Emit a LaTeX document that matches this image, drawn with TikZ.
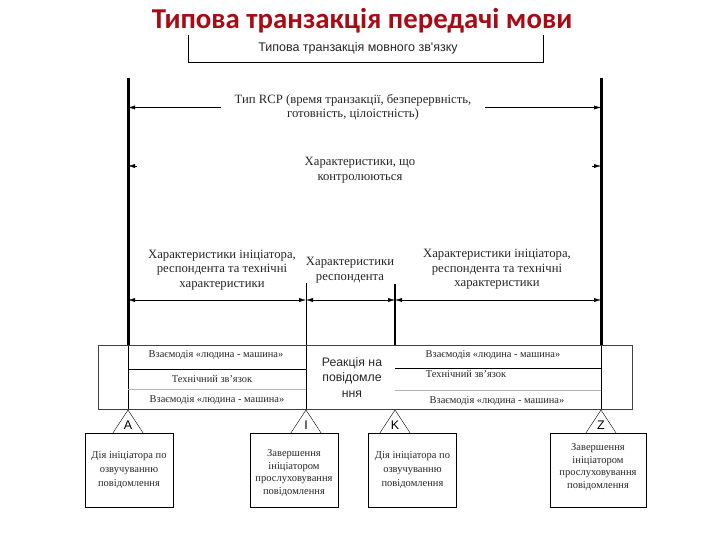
\documentclass[tikz,border=0pt]{standalone}
\usepackage{fontspec}
\setmainfont{Liberation Serif}
\newfontfamily\arialfont{Liberation Sans}
\newfontfamily\titlefont{Carlito}
\usetikzlibrary{arrows.meta, calc}

\definecolor{titlered}{RGB}{170,10,20}

\tikzset{
  txt/.style = {align = center, text = black!85, inner sep = 0pt,
    font = \fontsize{12.7}{14.5}\selectfont},
  celltxt/.style = {text = black!85, inner sep = 0pt,
    font = \fontsize{10.4}{11}\selectfont},
  box/.style = {draw, thin, minimum width = 88pt, minimum height = 74pt, inner sep = 0pt},
  boxtxt/.style = {align = center, text = black!85, inner sep = 0pt,
    font = \fontsize{10.5}{14}\selectfont},
  boxtxtfour/.style = {boxtxt, font = \fontsize{10.5}{12.6}\selectfont},
  dim/.style = {thin, -{Latex[length = 7pt, width = 4pt]}},
  dimboth/.style = {thin, {Latex[length = 7pt, width = 4pt]}-{Latex[length = 7pt, width = 4pt]}},
  tri/.style = {thin}
}

\begin{document}
\begin{tikzpicture}[x = 1pt, y = -1pt]
\useasboundingbox (0, 0) rectangle (720, 540);

% title
\node[titlered, font = \titlefont\bfseries\fontsize{28.8}{30}\selectfont] (title) at (362, 21){Типова транзакція передачі мови};

% bracket at the top
\coordinate (brl) at (188, 35);
\coordinate (brr) at (543, 35);
\draw[thin] (brl) -- (188, 62) -- (543, 62) -- (brr);
\node[font = \arialfont\fontsize{12.5}{14}\selectfont, text = black!85] (speech) at (358, 48){Типова транзакція мовного зв'язку};

% end points of the vertical lines
\coordinate (atop) at (128, 78);
\coordinate (atab) at (128, 345);
\coordinate (abot) at (128, 410);
\coordinate (ztop) at (601, 78);
\coordinate (ztab) at (601, 345);
\coordinate (zbot) at (601, 410);
\coordinate (itop) at (306, 283);
\coordinate (ibot) at (306, 410);
\coordinate (ktop) at (395, 284);
\coordinate (ktab) at (395, 345);
\coordinate (kbot) at (395, 410);

\draw[line width = 3pt] (atop) -- (atab);
\draw[line width = 3pt] (ztop) -- (ztab);
\draw[line width = 2pt] (ktop) -- (ktab);
\draw[thin] (atab) -- (abot);
\draw[thin] (ztab) -- (zbot);
\draw[thin] (itop) -- (ibot);

% dimension lines
\node[txt, inner xsep = 14pt] (rcp) at (353, 107.5){Тип RCP (время транзакції, безперервність,\\готовність, цілоістність)};
\draw[dim] (rcp.west) -- (rcp.west -| atop);
\draw[dim] (rcp.east) -- (rcp.east -| ztop);

\node[txt] (ctl) at (360, 170){Характеристики, що\\контролюються};
\coordinate (ctll) at (137, 166);
\coordinate (ctlr) at (592, 166);
\draw[dim] (ctll) -- (ctll -| atop);
\draw[dim] (ctlr) -- (ctlr -| ztop);

\node[txt] (left) at (222, 270){Характеристики ініціатора,\\респондента та технічні\\характеристики};
\node[txt] (mid) at (350, 270){Характеристики\\респондента};
\node[txt] (right) at (497, 269.5){Характеристики ініціатора,\\респондента та технічні\\характеристики};
\coordinate (row) at (0, 300);
\draw[dimboth] (row -| atop) -- (row -| itop);
\draw[dimboth] (row -| itop) -- (row -| ktop);
\draw[dimboth] (row -| ktop) -- (row -| ztop);

% table
\draw[black!75, thin] (98, 345) rectangle (632, 409);
\draw[thin] (128, 369) -- (306, 369);
\draw[black!30, thin] (128, 389) -- (306, 389);
\draw[thin] (395, 368) -- (601, 368);
\draw[black!30, thin] (395, 390) -- (601, 390);
\node[celltxt] (hm1) at (216, 355){Взаємодія «людина - машина»};
\node[celltxt] (tech1) at (212, 379){Технічний зв'язок};
\node[celltxt] (hm2) at (217, 400){Взаємодія «людина - машина»};
\node[celltxt] (hm3) at (493, 355){Взаємодія «людина - машина»};
\node[celltxt] (tech2) at (466, 374){Технічний зв'язок};
\node[celltxt] (hm4) at (497, 401){Взаємодія «людина - машина»};
\node[align = center, text = black!85, font = \arialfont\fontsize{12.3}{15.5}\selectfont] (react) at (352, 377.5){Реакція на\\повідомле\\ння};

% boxes below
\node[box] (boxa) at (129, 470){};
\node[box] (boxi) at (294, 470){};
\node[box] (boxk) at (412.5, 470){};
\node[box, minimum width = 96pt] (boxz) at (598, 470){};
\node[boxtxt] (texta) at (129, 470){Дія ініціатора по\\озвучуванню\\повідомлення};
\node[boxtxtfour] (texti) at (294, 473){Завершення\\ініціатором\\прослуховування\\повідомлення};
\node[boxtxt] (textk) at (412.5, 470){Дія ініціатора по\\озвучуванню\\повідомлення};
\node[boxtxtfour] (textz) at (598, 467){Завершення\\ініціатором\\прослуховування\\повідомлення};

% triangles
\foreach \pt/\bx/\lt in {abot/boxa/A, ibot/boxi/I, kbot/boxk/K, zbot/boxz/Z}{
  \draw[tri] ($(\bx.north -| \pt) + (-15, 0)$) -- (\pt) -- ($(\bx.north -| \pt) + (15, 0)$);
  \node[font = \arialfont\fontsize{12.5}{14}\selectfont, inner sep = 0pt] at ($(\bx.north -| \pt) + (0, -8)$){\lt};
}
\end{tikzpicture}
\end{document}
